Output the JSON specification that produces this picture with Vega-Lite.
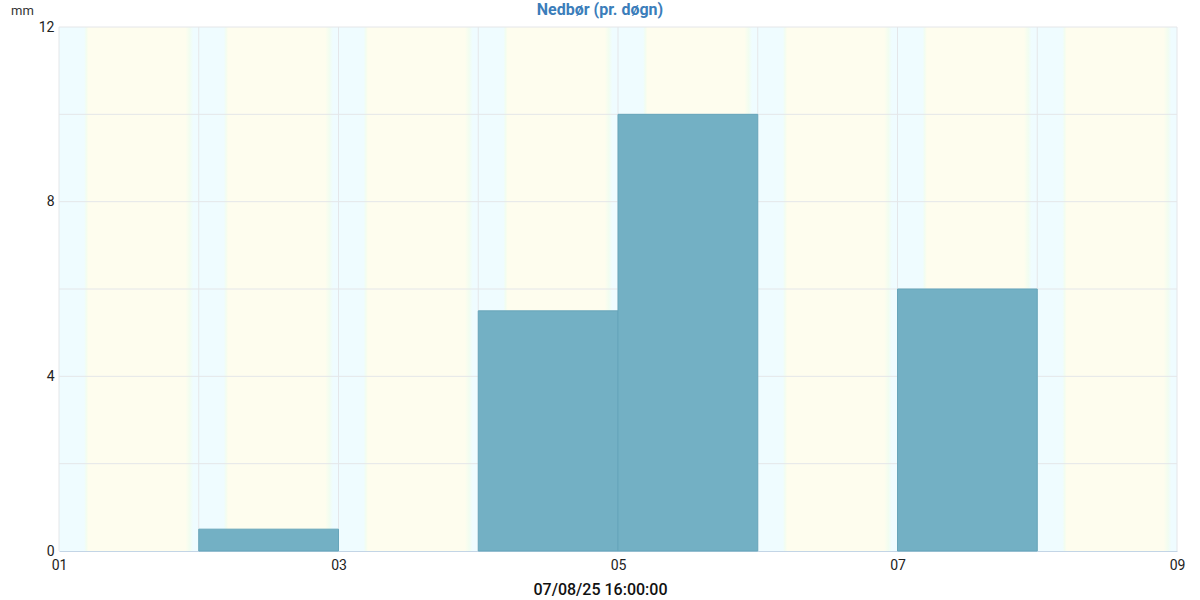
{
  "$schema": "https://vega.github.io/schema/vega-lite/v6.json",
  "width": 1118,
  "height": 524,
  "autosize": {"type": "none"},
  "padding": {"left": 59, "top": 27, "right": 23, "bottom": 49},
  "background": "white",
  "config": {"view": {"stroke": null}, "font": "Roboto"},
  "title": {
    "text": "Nedbør (pr. døgn)",
    "color": "#3b7dba",
    "fontSize": 16,
    "fontWeight": "bold",
    "font": "Roboto",
    "anchor": "middle",
    "frame": "group",
    "baseline": "middle",
    "offset": -22,
    "dx": -18
  },
  "datasets": {
    "days": [
      {"start": "2025-08-01T00:00:00Z", "end": "2025-08-02T00:00:00Z", "precip": 0},
      {"start": "2025-08-02T00:00:00Z", "end": "2025-08-03T00:00:00Z", "precip": 0.5},
      {"start": "2025-08-03T00:00:00Z", "end": "2025-08-04T00:00:00Z", "precip": 0},
      {"start": "2025-08-04T00:00:00Z", "end": "2025-08-05T00:00:00Z", "precip": 5.5},
      {"start": "2025-08-05T00:00:00Z", "end": "2025-08-06T00:00:00Z", "precip": 10},
      {"start": "2025-08-06T00:00:00Z", "end": "2025-08-07T00:00:00Z", "precip": 0},
      {"start": "2025-08-07T00:00:00Z", "end": "2025-08-08T00:00:00Z", "precip": 6},
      {"start": "2025-08-08T00:00:00Z", "end": "2025-08-09T00:00:00Z", "precip": 0}
    ],
    "xgrid": [
      {"t": "2025-08-01T00:00:00Z"},
      {"t": "2025-08-02T00:00:00Z"},
      {"t": "2025-08-03T00:00:00Z"},
      {"t": "2025-08-04T00:00:00Z"},
      {"t": "2025-08-05T00:00:00Z"},
      {"t": "2025-08-06T00:00:00Z"},
      {"t": "2025-08-07T00:00:00Z"},
      {"t": "2025-08-08T00:00:00Z"},
      {"t": "2025-08-09T00:00:00Z"}
    ],
    "ygrid": [
      {"v": 2}, {"v": 4}, {"v": 6}, {"v": 8}, {"v": 10}, {"v": 12}
    ]
  },
  "layer": [
    {
      "data": {"name": "days"},
      "mark": {
        "type": "rect",
        "fill": {
          "gradient": "linear",
          "x1": 0, "y1": 0, "x2": 1, "y2": 0,
          "stops": [
            {"offset": 0, "color": "#effcff"},
            {"offset": 0.18, "color": "#effcff"},
            {"offset": 0.195, "color": "#f2fdf0"},
            {"offset": 0.21, "color": "#fefdee"},
            {"offset": 0.905, "color": "#fefdee"},
            {"offset": 0.935, "color": "#f2fdf0"},
            {"offset": 0.96, "color": "#effcff"},
            {"offset": 1, "color": "#effcff"}
          ]
        }
      },
      "encoding": {
        "x": {
          "field": "start",
          "type": "temporal",
          "scale": {
            "type": "utc",
            "domain": [
              {"year": 2025, "month": 8, "date": 1, "utc": true},
              {"year": 2025, "month": 8, "date": 9, "utc": true}
            ],
            "nice": false
          },
          "axis": {
            "title": "07/08/25 16:00:00",
            "titleFontSize": 16,
            "titleFontWeight": 500,
            "titleColor": "#111111",
            "titlePadding": 9,
            "titleX": 541,
            "titleAlign": "center",
            "format": "%d",
            "values": [
              {"year": 2025, "month": 8, "date": 1, "utc": true},
              {"year": 2025, "month": 8, "date": 3, "utc": true},
              {"year": 2025, "month": 8, "date": 5, "utc": true},
              {"year": 2025, "month": 8, "date": 7, "utc": true},
              {"year": 2025, "month": 8, "date": 9, "utc": true}
            ],
            "grid": false,
            "ticks": false,
            "labelPadding": 7,
            "labelFontSize": 14,
            "labelColor": "#222222",
            "labelFlush": false,
            "domainColor": "#c3d5e6",
            "domainWidth": 1
          }
        },
        "x2": {"field": "end"}
      }
    },
    {
      "data": {"name": "xgrid"},
      "mark": {"type": "rule", "color": "#e4e6e9", "strokeWidth": 1},
      "encoding": {"x": {"field": "t", "type": "temporal"}}
    },
    {
      "data": {"name": "ygrid"},
      "mark": {"type": "rule", "color": "#e4e6e9", "strokeWidth": 1},
      "encoding": {"y": {"field": "v", "type": "quantitative"}}
    },
    {
      "data": {"name": "days"},
      "transform": [{"filter": "datum.precip > 0"}],
      "mark": {"type": "rect", "fill": "#73b0c4", "stroke": "#67a5ba", "strokeWidth": 1},
      "encoding": {
        "x": {"field": "start", "type": "temporal"},
        "x2": {"field": "end"},
        "y": {
          "field": "precip",
          "type": "quantitative",
          "scale": {"domain": [0, 12], "nice": false},
          "axis": {
            "title": "mm",
            "titleAngle": 0,
            "titleX": -37,
            "titleY": -17,
            "titleAlign": "center",
            "titleBaseline": "middle",
            "titleFontWeight": "normal",
            "titleFontSize": 13,
            "titleColor": "#333333",
            "values": [0, 4, 8, 12],
            "grid": false,
            "domain": false,
            "ticks": false,
            "labelPadding": 5,
            "labelFontSize": 14,
            "labelColor": "#222222",
            "labelFlush": false
          }
        },
        "y2": {"datum": 0}
      }
    }
  ]
}
